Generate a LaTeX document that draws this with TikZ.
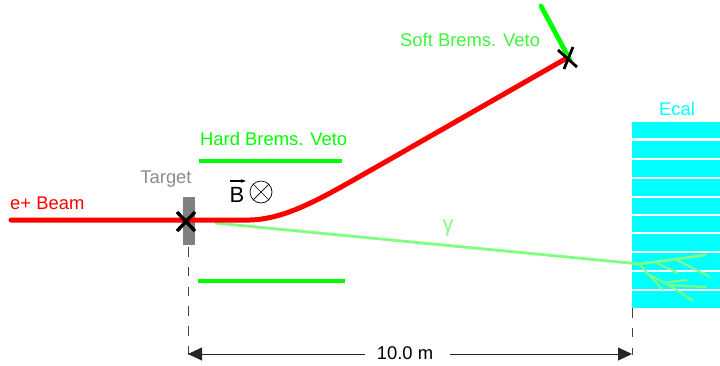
\documentclass[tikz,border=0pt]{standalone}
\usepackage{fontspec}
\setmainfont{Liberation Sans}
\usetikzlibrary{arrows.meta}
\definecolor{vetogreen}{RGB}{0,255,0}
\definecolor{softgreen}{RGB}{60,245,60}
\definecolor{photon}{RGB}{128,255,128}
\definecolor{ecalc}{RGB}{0,255,255}
\tikzset{
  lbl/.style={inner sep=0pt,font=\fontsize{18.4}{20}\selectfont},
  vetobar/.style={draw=vetogreen,line width=4.2pt},
  beam/.style={draw=red,line width=5pt,line cap=round},
  cross/.style={draw=black,line width=3pt},
  gam/.style={draw=photon,line width=2pt},
  dashline/.style={draw=black!75,line width=1pt,dash pattern=on 9.5pt off 10.3pt},
  dim/.style={draw=black!85,line width=0.9pt},
  layer/.style={fill=ecalc,draw=none}
}
\begin{document}
\begin{tikzpicture}[x=1pt,y=-1pt]
\useasboundingbox (0,0) rectangle (720,365);
% ecal
\foreach \a/\b in {122/138,141/158,160/177,179/196,198/214,216/232,234/251,253/270,272/289,291/308}
  \fill[layer] (632,\a) rectangle (720,\b);
% target
\node[fill=black!50,minimum width=12pt,minimum height=47.5pt,inner sep=0pt] (target) at (188.7,221) {};
% photon and shower
\coordinate (pstart) at (215,223);
\coordinate (pend) at (640,264);
\draw[gam,line width=2.8pt] (pstart) -- (pend);
\draw[gam,line width=2.6pt] (pend) -- (706,255);
\draw[gam] (675,259) -- (710,277);
\draw[gam] (657,263) -- (678,273);
\draw[gam] (640,265) -- (663,290);
\draw[gam] (650,275) -- (672,287) -- (693,301);
\draw[gam] (663,283) -- (687,280);
\draw[gam] (667,285) -- (706,287);
% beam
\coordinate (bstart) at (11,220);
\coordinate (bend) at (567,58);
\draw[beam] (bstart) -- (250,220) .. controls (290,219) and (330,193) .. (380,165) -- (bend);
% vetoes
\coordinate (h1a) at (199,161); \coordinate (h1b) at (342,161);
\coordinate (h2a) at (198,281); \coordinate (h2b) at (345,281);
\draw[vetobar] (h1a) -- (h1b);
\draw[vetobar] (h2a) -- (h2b);
\coordinate (s1) at (541,6); \coordinate (s2) at (570,60);
\draw[vetobar,line width=4.8pt,line cap=round] (s1) -- (s2);
% crosses
\draw[cross,line width=3.4pt] (177,212) -- (195,231);
\draw[cross,line width=3.4pt] (195,212) -- (177,231);
\draw[cross,line width=2.8pt] (558,50) -- (577,67);
\draw[cross,line width=2.8pt] (573,47) -- (564,69);
% labels
\node[lbl,text=red,anchor=west] (ebeam) at (10,203) {e+ Beam};
\node[lbl,text=black!45,anchor=center] (tlabel) at (166,179.5) {Target};
\node[lbl,text=vetogreen,anchor=west] (hard) at (200,139) {Hard Brems. Veto};
\node[lbl,text=softgreen,anchor=west] (soft) at (400,40) {Soft Brems. Veto};
\node[lbl,text=ecalc,anchor=center] (ecal) at (677,109) {Ecal};
\node[lbl,text=photon,anchor=center,font=\fontsize{22}{24}\selectfont] (gamma) at (448,228) {γ};
% B field
\node[inner sep=0pt,font=\fontsize{22}{24}\selectfont] (bf) at (237,195) {B};
\draw[line width=1.2pt,-{Stealth[length=5pt,width=3.5pt]}] (230,181) -- (246,181);
\node[draw=black,circle,line width=0.7pt,minimum size=22pt,inner sep=0pt] (circ) at (261,192) {};
\draw[line width=0.7pt] (circ.45) -- (circ.225) (circ.135) -- (circ.315);
% dimension
\coordinate (d1) at (188,247); \coordinate (d1b) at (188,355);
\coordinate (d2) at (632,308); \coordinate (d2b) at (632,355);
\draw[dashline] (d1) -- (d1b);
\draw[dashline] (d2) -- (d2b);
\node[lbl] (dist) at (405,353) {10.0 m};
\coordinate (a1) at (188,354); \coordinate (a2) at (632,354);
\draw[dim,-{Triangle[length=14pt,width=13pt]}] (365,354) -- (a1);
\draw[dim,-{Triangle[length=14pt,width=13pt]}] (450,354) -- (a2);
\end{tikzpicture}
\end{document}
